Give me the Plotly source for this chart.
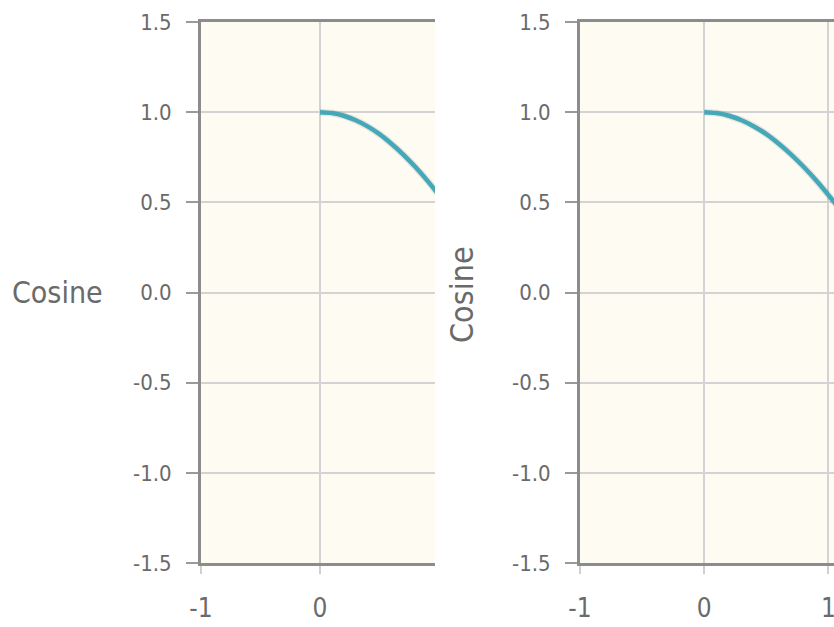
import plotly.graph_objects as go

# Data (x in radians, cosine values)
x_vals = [0.0, 0.1, 0.2, 0.3, 0.4, 0.5, 0.6, 0.7, 0.8, 0.9, 1.0, 1.1]
cos_vals = [1.0, 0.995, 0.980, 0.955, 0.921, 0.878, 0.825, 0.765, 0.697, 0.622, 0.540, 0.454]
y_ticks = [-1.5, -1.0, -0.5, 0.0, 0.5, 1.0, 1.5]
y_tick_text = ["-1.5", "-1.0", "-0.5", "0.0", "0.5", "1.0", "1.5"]
x_ticks = [-1, 0, 1]
axis_title = "Cosine"

W, H = 834, 627
FONT = "DejaVu Sans Condensed, Liberation Sans Narrow, Roboto Condensed, sans-serif"
TEXT_COLOR = "#6a6a6a"
LINE_COLOR = "#44a8b8"

fig = go.Figure()

panels = [
    dict(xaxis="x", yaxis="y", xdom=[201 / W, 435 / W], xrange=[-1, (435 - 320) / 119]),
    dict(xaxis="x2", yaxis="y2", xdom=[580 / W, 1.0], xrange=[-1, (834 - 705) / 123.5]),
]
ydom = [1 - 563 / H, 1 - 22 / H]

for p in panels:
    fig.add_trace(go.Scatter(x=x_vals, y=cos_vals, mode="lines",
                             line=dict(color="rgba(70,70,70,0.12)", width=7, shape="spline"),
                             xaxis=p["xaxis"], yaxis=p["yaxis"], hoverinfo="skip", showlegend=False))
    fig.add_trace(go.Scatter(x=x_vals, y=cos_vals, mode="lines",
                             line=dict(color=LINE_COLOR, width=4.5, shape="spline"),
                             xaxis=p["xaxis"], yaxis=p["yaxis"], showlegend=False))

layout = dict(
    width=W, height=H,
    margin=dict(l=0, r=0, t=0, b=0, pad=0),
    paper_bgcolor="white",
    plot_bgcolor="#fdfbf2",
    font=dict(family=FONT, size=22, color=TEXT_COLOR),
    showlegend=False,
)

for i, p in enumerate(panels):
    xa = "xaxis" if i == 0 else "xaxis2"
    ya = "yaxis" if i == 0 else "yaxis2"
    layout[xa] = dict(
        domain=p["xdom"], range=p["xrange"], anchor=p["yaxis"], automargin=False,
        tickmode="array", tickvals=x_ticks, ticktext=[str(v) for v in x_ticks],
        tickfont=dict(size=26), ticklabeloverflow="allow",
        showgrid=True, gridcolor="#d3d3d3", gridwidth=1.5, zeroline=False,
        showline=True, linecolor="#8c8c8c", linewidth=3, mirror=True,
        ticks="outside", ticklen=8, tickwidth=2, tickcolor="#d0d0d0",
        ticklabelstandoff=12,
    )
    layout[ya] = dict(
        domain=ydom, range=[-1.5, 1.5], anchor=p["xaxis"], automargin=False,
        tickmode="array", tickvals=y_ticks, ticktext=y_tick_text,
        tickfont=dict(size=22),
        showgrid=True, gridcolor="#d3d3d3", gridwidth=1.5, zeroline=False,
        showline=True, linecolor="#8c8c8c", linewidth=3, mirror=False,
        ticks="outside", ticklen=12, tickwidth=1.5, tickcolor="#9a9a9a",
        ticklabelstandoff=10,
    )

fig.update_layout(**layout)

fig.add_annotation(text=axis_title, xref="paper", yref="paper",
                   x=57 / W, y=1 - 292 / H, xanchor="center", yanchor="middle",
                   showarrow=False, font=dict(family=FONT, size=30, color=TEXT_COLOR))
fig.add_annotation(text=axis_title, xref="paper", yref="paper",
                   x=462 / W, y=1 - 295 / H, xanchor="center", yanchor="middle",
                   textangle=-90, showarrow=False,
                   font=dict(family=FONT, size=32, color=TEXT_COLOR))

fig.write_html("out.html",
               config={"displayModeBar": False},
               post_script="document.body.style.margin='0';document.body.style.overflow='hidden';")
